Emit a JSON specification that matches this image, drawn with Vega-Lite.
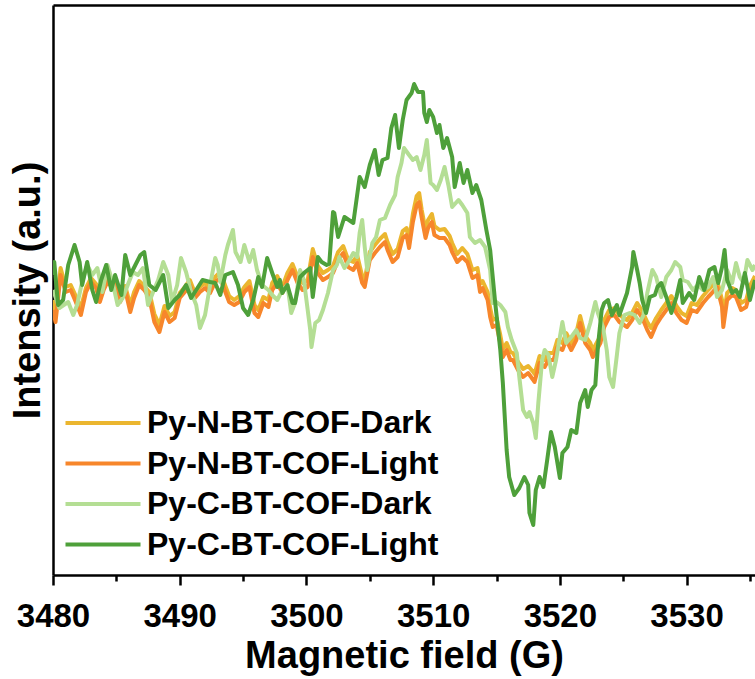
{
  "$schema": "https://vega.github.io/schema/vega-lite/v6.json",
  "width": 702,
  "height": 570,
  "autosize": "none",
  "padding": {"left": 53, "top": 5, "right": 0, "bottom": 104},
  "background": "white",
  "config": {"view": {"stroke": null}, "font": "Liberation Sans"},
  "layer": [
    {
      "data": {"values": [
        {"s":"Py-N-BT-COF-Dark","x":3480.0,"y":275},{"s":"Py-N-BT-COF-Dark","x":3480.2,"y":260},{"s":"Py-N-BT-COF-Dark","x":3480.6,"y":307},{"s":"Py-N-BT-COF-Dark","x":3481.0,"y":288},{"s":"Py-N-BT-COF-Dark","x":3481.4,"y":290},{"s":"Py-N-BT-COF-Dark","x":3481.8,"y":279},{"s":"Py-N-BT-COF-Dark","x":3482.2,"y":267},{"s":"Py-N-BT-COF-Dark","x":3482.6,"y":287},{"s":"Py-N-BT-COF-Dark","x":3483.0,"y":297},{"s":"Py-N-BT-COF-Dark","x":3483.4,"y":291},{"s":"Py-N-BT-COF-Dark","x":3483.7,"y":279},{"s":"Py-N-BT-COF-Dark","x":3484.0,"y":289},{"s":"Py-N-BT-COF-Dark","x":3484.3,"y":297},{"s":"Py-N-BT-COF-Dark","x":3484.7,"y":291},{"s":"Py-N-BT-COF-Dark","x":3484.9,"y":295},{"s":"Py-N-BT-COF-Dark","x":3485.3,"y":279},{"s":"Py-N-BT-COF-Dark","x":3485.7,"y":289},{"s":"Py-N-BT-COF-Dark","x":3486.1,"y":270},{"s":"Py-N-BT-COF-Dark","x":3486.4,"y":283},{"s":"Py-N-BT-COF-Dark","x":3486.8,"y":294},{"s":"Py-N-BT-COF-Dark","x":3487.2,"y":289},{"s":"Py-N-BT-COF-Dark","x":3487.6,"y":283},{"s":"Py-N-BT-COF-Dark","x":3488.0,"y":261},{"s":"Py-N-BT-COF-Dark","x":3488.4,"y":250},{"s":"Py-N-BT-COF-Dark","x":3488.8,"y":269},{"s":"Py-N-BT-COF-Dark","x":3489.2,"y":259},{"s":"Py-N-BT-COF-Dark","x":3489.6,"y":263},{"s":"Py-N-BT-COF-Dark","x":3490.0,"y":282},{"s":"Py-N-BT-COF-Dark","x":3490.4,"y":288},{"s":"Py-N-BT-COF-Dark","x":3490.8,"y":295},{"s":"Py-N-BT-COF-Dark","x":3491.2,"y":282},{"s":"Py-N-BT-COF-Dark","x":3491.6,"y":288},{"s":"Py-N-BT-COF-Dark","x":3492.0,"y":292},{"s":"Py-N-BT-COF-Dark","x":3492.4,"y":287},{"s":"Py-N-BT-COF-Dark","x":3492.8,"y":298},{"s":"Py-N-BT-COF-Dark","x":3493.2,"y":303},{"s":"Py-N-BT-COF-Dark","x":3493.6,"y":289},{"s":"Py-N-BT-COF-Dark","x":3493.9,"y":279},{"s":"Py-N-BT-COF-Dark","x":3494.3,"y":275},{"s":"Py-N-BT-COF-Dark","x":3494.7,"y":279},{"s":"Py-N-BT-COF-Dark","x":3495.1,"y":288},{"s":"Py-N-BT-COF-Dark","x":3495.5,"y":294},{"s":"Py-N-BT-COF-Dark","x":3495.9,"y":270},{"s":"Py-N-BT-COF-Dark","x":3496.2,"y":265},{"s":"Py-N-BT-COF-Dark","x":3496.6,"y":278},{"s":"Py-N-BT-COF-Dark","x":3497.0,"y":275},{"s":"Py-N-BT-COF-Dark","x":3497.3,"y":292},{"s":"Py-N-BT-COF-Dark","x":3497.7,"y":299},{"s":"Py-N-BT-COF-Dark","x":3498.1,"y":288},{"s":"Py-N-BT-COF-Dark","x":3498.5,"y":302},{"s":"Py-N-BT-COF-Dark","x":3498.9,"y":311},{"s":"Py-N-BT-COF-Dark","x":3499.3,"y":298},{"s":"Py-N-BT-COF-Dark","x":3499.7,"y":292},{"s":"Py-N-BT-COF-Dark","x":3500.1,"y":295},{"s":"Py-N-BT-COF-Dark","x":3500.5,"y":326},{"s":"Py-N-BT-COF-Dark","x":3500.9,"y":309},{"s":"Py-N-BT-COF-Dark","x":3501.3,"y":302},{"s":"Py-N-BT-COF-Dark","x":3501.7,"y":305},{"s":"Py-N-BT-COF-Dark","x":3502.1,"y":309},{"s":"Py-N-BT-COF-Dark","x":3502.5,"y":323},{"s":"Py-N-BT-COF-Dark","x":3502.9,"y":329},{"s":"Py-N-BT-COF-Dark","x":3503.3,"y":315},{"s":"Py-N-BT-COF-Dark","x":3503.7,"y":313},{"s":"Py-N-BT-COF-Dark","x":3504.0,"y":320},{"s":"Py-N-BT-COF-Dark","x":3504.4,"y":299},{"s":"Py-N-BT-COF-Dark","x":3504.6,"y":295},{"s":"Py-N-BT-COF-Dark","x":3505.0,"y":323},{"s":"Py-N-BT-COF-Dark","x":3505.4,"y":330},{"s":"Py-N-BT-COF-Dark","x":3505.8,"y":336},{"s":"Py-N-BT-COF-Dark","x":3506.2,"y":341},{"s":"Py-N-BT-COF-Dark","x":3506.4,"y":333},{"s":"Py-N-BT-COF-Dark","x":3506.8,"y":321},{"s":"Py-N-BT-COF-Dark","x":3507.2,"y":326},{"s":"Py-N-BT-COF-Dark","x":3507.6,"y":344},{"s":"Py-N-BT-COF-Dark","x":3507.9,"y":347},{"s":"Py-N-BT-COF-Dark","x":3508.1,"y":334},{"s":"Py-N-BT-COF-Dark","x":3508.4,"y":361},{"s":"Py-N-BT-COF-Dark","x":3508.7,"y":379},{"s":"Py-N-BT-COF-Dark","x":3508.9,"y":382},{"s":"Py-N-BT-COF-Dark","x":3509.1,"y":365},{"s":"Py-N-BT-COF-Dark","x":3509.4,"y":345},{"s":"Py-N-BT-COF-Dark","x":3509.6,"y":355},{"s":"Py-N-BT-COF-Dark","x":3509.9,"y":361},{"s":"Py-N-BT-COF-Dark","x":3510.1,"y":349},{"s":"Py-N-BT-COF-Dark","x":3510.5,"y":345},{"s":"Py-N-BT-COF-Dark","x":3510.9,"y":346},{"s":"Py-N-BT-COF-Dark","x":3511.3,"y":339},{"s":"Py-N-BT-COF-Dark","x":3511.5,"y":332},{"s":"Py-N-BT-COF-Dark","x":3511.9,"y":321},{"s":"Py-N-BT-COF-Dark","x":3512.3,"y":327},{"s":"Py-N-BT-COF-Dark","x":3512.7,"y":321},{"s":"Py-N-BT-COF-Dark","x":3513.1,"y":305},{"s":"Py-N-BT-COF-Dark","x":3513.5,"y":307},{"s":"Py-N-BT-COF-Dark","x":3513.7,"y":291},{"s":"Py-N-BT-COF-Dark","x":3513.9,"y":294},{"s":"Py-N-BT-COF-Dark","x":3514.3,"y":283},{"s":"Py-N-BT-COF-Dark","x":3514.5,"y":267},{"s":"Py-N-BT-COF-Dark","x":3514.7,"y":255},{"s":"Py-N-BT-COF-Dark","x":3515.0,"y":257},{"s":"Py-N-BT-COF-Dark","x":3515.3,"y":240},{"s":"Py-N-BT-COF-Dark","x":3515.5,"y":226},{"s":"Py-N-BT-COF-Dark","x":3515.8,"y":232},{"s":"Py-N-BT-COF-Dark","x":3516.1,"y":223},{"s":"Py-N-BT-COF-Dark","x":3516.3,"y":222},{"s":"Py-N-BT-COF-Dark","x":3516.7,"y":213},{"s":"Py-N-BT-COF-Dark","x":3517.1,"y":206},{"s":"Py-N-BT-COF-Dark","x":3517.5,"y":209},{"s":"Py-N-BT-COF-Dark","x":3517.9,"y":203},{"s":"Py-N-BT-COF-Dark","x":3518.0,"y":201},{"s":"Py-N-BT-COF-Dark","x":3518.4,"y":219},{"s":"Py-N-BT-COF-Dark","x":3518.8,"y":215},{"s":"Py-N-BT-COF-Dark","x":3519.1,"y":222},{"s":"Py-N-BT-COF-Dark","x":3519.5,"y":222},{"s":"Py-N-BT-COF-Dark","x":3519.8,"y":235},{"s":"Py-N-BT-COF-Dark","x":3520.2,"y":232},{"s":"Py-N-BT-COF-Dark","x":3520.5,"y":242},{"s":"Py-N-BT-COF-Dark","x":3520.9,"y":232},{"s":"Py-N-BT-COF-Dark","x":3521.3,"y":242},{"s":"Py-N-BT-COF-Dark","x":3521.6,"y":259},{"s":"Py-N-BT-COF-Dark","x":3522.0,"y":239},{"s":"Py-N-BT-COF-Dark","x":3522.4,"y":232},{"s":"Py-N-BT-COF-Dark","x":3522.6,"y":225},{"s":"Py-N-BT-COF-Dark","x":3522.9,"y":232},{"s":"Py-N-BT-COF-Dark","x":3523.2,"y":239},{"s":"Py-N-BT-COF-Dark","x":3523.5,"y":255},{"s":"Py-N-BT-COF-Dark","x":3523.9,"y":265},{"s":"Py-N-BT-COF-Dark","x":3524.3,"y":267},{"s":"Py-N-BT-COF-Dark","x":3524.7,"y":260},{"s":"Py-N-BT-COF-Dark","x":3525.3,"y":255},{"s":"Py-N-BT-COF-Dark","x":3525.7,"y":262},{"s":"Py-N-BT-COF-Dark","x":3526.1,"y":272},{"s":"Py-N-BT-COF-Dark","x":3526.5,"y":264},{"s":"Py-N-BT-COF-Dark","x":3526.9,"y":253},{"s":"Py-N-BT-COF-Dark","x":3527.2,"y":247},{"s":"Py-N-BT-COF-Dark","x":3527.6,"y":257},{"s":"Py-N-BT-COF-Dark","x":3528.0,"y":265},{"s":"Py-N-BT-COF-Dark","x":3528.4,"y":272},{"s":"Py-N-BT-COF-Dark","x":3528.8,"y":279},{"s":"Py-N-BT-COF-Dark","x":3529.2,"y":269},{"s":"Py-N-BT-COF-Dark","x":3529.6,"y":262},{"s":"Py-N-BT-COF-Dark","x":3530.0,"y":259},{"s":"Py-N-BT-COF-Dark","x":3530.4,"y":272},{"s":"Py-N-BT-COF-Dark","x":3530.8,"y":270},{"s":"Py-N-BT-COF-Dark","x":3531.3,"y":279},{"s":"Py-N-BT-COF-Dark","x":3531.7,"y":285},{"s":"Py-N-BT-COF-Dark","x":3532.0,"y":289},{"s":"Py-N-BT-COF-Dark","x":3532.4,"y":295},{"s":"Py-N-BT-COF-Dark","x":3532.8,"y":275},{"s":"Py-N-BT-COF-Dark","x":3532.9,"y":257},{"s":"Py-N-BT-COF-Dark","x":3533.2,"y":282},{"s":"Py-N-BT-COF-Dark","x":3533.6,"y":287},{"s":"Py-N-BT-COF-Dark","x":3533.9,"y":285},{"s":"Py-N-BT-COF-Dark","x":3534.3,"y":272},{"s":"Py-N-BT-COF-Dark","x":3534.7,"y":275},{"s":"Py-N-BT-COF-Dark","x":3535.0,"y":289},{"s":"Py-N-BT-COF-Dark","x":3535.4,"y":299},

        {"s":"Py-N-BT-COF-Light","x":3480.0,"y":265},{"s":"Py-N-BT-COF-Light","x":3480.2,"y":253},{"s":"Py-N-BT-COF-Light","x":3480.6,"y":300},{"s":"Py-N-BT-COF-Light","x":3481.0,"y":283},{"s":"Py-N-BT-COF-Light","x":3481.4,"y":285},{"s":"Py-N-BT-COF-Light","x":3481.8,"y":273},{"s":"Py-N-BT-COF-Light","x":3482.2,"y":260},{"s":"Py-N-BT-COF-Light","x":3482.6,"y":283},{"s":"Py-N-BT-COF-Light","x":3483.0,"y":293},{"s":"Py-N-BT-COF-Light","x":3483.4,"y":287},{"s":"Py-N-BT-COF-Light","x":3483.7,"y":273},{"s":"Py-N-BT-COF-Light","x":3484.0,"y":285},{"s":"Py-N-BT-COF-Light","x":3484.3,"y":293},{"s":"Py-N-BT-COF-Light","x":3484.7,"y":287},{"s":"Py-N-BT-COF-Light","x":3484.9,"y":290},{"s":"Py-N-BT-COF-Light","x":3485.3,"y":273},{"s":"Py-N-BT-COF-Light","x":3485.7,"y":285},{"s":"Py-N-BT-COF-Light","x":3486.1,"y":263},{"s":"Py-N-BT-COF-Light","x":3486.4,"y":277},{"s":"Py-N-BT-COF-Light","x":3486.8,"y":290},{"s":"Py-N-BT-COF-Light","x":3487.2,"y":285},{"s":"Py-N-BT-COF-Light","x":3487.6,"y":277},{"s":"Py-N-BT-COF-Light","x":3488.0,"y":253},{"s":"Py-N-BT-COF-Light","x":3488.4,"y":243},{"s":"Py-N-BT-COF-Light","x":3488.8,"y":263},{"s":"Py-N-BT-COF-Light","x":3489.2,"y":253},{"s":"Py-N-BT-COF-Light","x":3489.6,"y":257},{"s":"Py-N-BT-COF-Light","x":3490.0,"y":277},{"s":"Py-N-BT-COF-Light","x":3490.4,"y":283},{"s":"Py-N-BT-COF-Light","x":3490.8,"y":290},{"s":"Py-N-BT-COF-Light","x":3491.2,"y":277},{"s":"Py-N-BT-COF-Light","x":3491.6,"y":283},{"s":"Py-N-BT-COF-Light","x":3492.0,"y":287},{"s":"Py-N-BT-COF-Light","x":3492.4,"y":282},{"s":"Py-N-BT-COF-Light","x":3492.8,"y":293},{"s":"Py-N-BT-COF-Light","x":3493.2,"y":297},{"s":"Py-N-BT-COF-Light","x":3493.6,"y":283},{"s":"Py-N-BT-COF-Light","x":3493.9,"y":273},{"s":"Py-N-BT-COF-Light","x":3494.3,"y":270},{"s":"Py-N-BT-COF-Light","x":3494.7,"y":273},{"s":"Py-N-BT-COF-Light","x":3495.1,"y":283},{"s":"Py-N-BT-COF-Light","x":3495.5,"y":288},{"s":"Py-N-BT-COF-Light","x":3495.9,"y":262},{"s":"Py-N-BT-COF-Light","x":3496.2,"y":258},{"s":"Py-N-BT-COF-Light","x":3496.6,"y":272},{"s":"Py-N-BT-COF-Light","x":3497.0,"y":268},{"s":"Py-N-BT-COF-Light","x":3497.3,"y":285},{"s":"Py-N-BT-COF-Light","x":3497.7,"y":292},{"s":"Py-N-BT-COF-Light","x":3498.1,"y":282},{"s":"Py-N-BT-COF-Light","x":3498.5,"y":295},{"s":"Py-N-BT-COF-Light","x":3498.9,"y":305},{"s":"Py-N-BT-COF-Light","x":3499.3,"y":292},{"s":"Py-N-BT-COF-Light","x":3499.7,"y":285},{"s":"Py-N-BT-COF-Light","x":3500.1,"y":288},{"s":"Py-N-BT-COF-Light","x":3500.5,"y":318},{"s":"Py-N-BT-COF-Light","x":3500.9,"y":302},{"s":"Py-N-BT-COF-Light","x":3501.3,"y":295},{"s":"Py-N-BT-COF-Light","x":3501.7,"y":298},{"s":"Py-N-BT-COF-Light","x":3502.1,"y":302},{"s":"Py-N-BT-COF-Light","x":3502.5,"y":315},{"s":"Py-N-BT-COF-Light","x":3502.9,"y":322},{"s":"Py-N-BT-COF-Light","x":3503.3,"y":308},{"s":"Py-N-BT-COF-Light","x":3503.7,"y":305},{"s":"Py-N-BT-COF-Light","x":3504.0,"y":312},{"s":"Py-N-BT-COF-Light","x":3504.4,"y":292},{"s":"Py-N-BT-COF-Light","x":3504.6,"y":288},{"s":"Py-N-BT-COF-Light","x":3505.0,"y":315},{"s":"Py-N-BT-COF-Light","x":3505.4,"y":322},{"s":"Py-N-BT-COF-Light","x":3505.8,"y":328},{"s":"Py-N-BT-COF-Light","x":3506.2,"y":333},{"s":"Py-N-BT-COF-Light","x":3506.4,"y":325},{"s":"Py-N-BT-COF-Light","x":3506.8,"y":313},{"s":"Py-N-BT-COF-Light","x":3507.2,"y":318},{"s":"Py-N-BT-COF-Light","x":3507.6,"y":337},{"s":"Py-N-BT-COF-Light","x":3507.9,"y":340},{"s":"Py-N-BT-COF-Light","x":3508.1,"y":327},{"s":"Py-N-BT-COF-Light","x":3508.4,"y":353},{"s":"Py-N-BT-COF-Light","x":3508.7,"y":370},{"s":"Py-N-BT-COF-Light","x":3508.9,"y":373},{"s":"Py-N-BT-COF-Light","x":3509.1,"y":357},{"s":"Py-N-BT-COF-Light","x":3509.4,"y":337},{"s":"Py-N-BT-COF-Light","x":3509.6,"y":347},{"s":"Py-N-BT-COF-Light","x":3509.9,"y":353},{"s":"Py-N-BT-COF-Light","x":3510.1,"y":340},{"s":"Py-N-BT-COF-Light","x":3510.5,"y":337},{"s":"Py-N-BT-COF-Light","x":3510.9,"y":337},{"s":"Py-N-BT-COF-Light","x":3511.3,"y":330},{"s":"Py-N-BT-COF-Light","x":3511.5,"y":323},{"s":"Py-N-BT-COF-Light","x":3511.9,"y":313},{"s":"Py-N-BT-COF-Light","x":3512.3,"y":318},{"s":"Py-N-BT-COF-Light","x":3512.7,"y":313},{"s":"Py-N-BT-COF-Light","x":3513.1,"y":297},{"s":"Py-N-BT-COF-Light","x":3513.5,"y":300},{"s":"Py-N-BT-COF-Light","x":3513.7,"y":283},{"s":"Py-N-BT-COF-Light","x":3513.9,"y":287},{"s":"Py-N-BT-COF-Light","x":3514.3,"y":275},{"s":"Py-N-BT-COF-Light","x":3514.5,"y":258},{"s":"Py-N-BT-COF-Light","x":3514.7,"y":248},{"s":"Py-N-BT-COF-Light","x":3515.0,"y":250},{"s":"Py-N-BT-COF-Light","x":3515.3,"y":232},{"s":"Py-N-BT-COF-Light","x":3515.5,"y":218},{"s":"Py-N-BT-COF-Light","x":3515.8,"y":225},{"s":"Py-N-BT-COF-Light","x":3516.1,"y":215},{"s":"Py-N-BT-COF-Light","x":3516.3,"y":215},{"s":"Py-N-BT-COF-Light","x":3516.7,"y":205},{"s":"Py-N-BT-COF-Light","x":3517.1,"y":198},{"s":"Py-N-BT-COF-Light","x":3517.5,"y":202},{"s":"Py-N-BT-COF-Light","x":3517.9,"y":195},{"s":"Py-N-BT-COF-Light","x":3518.0,"y":193},{"s":"Py-N-BT-COF-Light","x":3518.4,"y":212},{"s":"Py-N-BT-COF-Light","x":3518.8,"y":208},{"s":"Py-N-BT-COF-Light","x":3519.1,"y":215},{"s":"Py-N-BT-COF-Light","x":3519.5,"y":215},{"s":"Py-N-BT-COF-Light","x":3519.8,"y":228},{"s":"Py-N-BT-COF-Light","x":3520.2,"y":225},{"s":"Py-N-BT-COF-Light","x":3520.5,"y":235},{"s":"Py-N-BT-COF-Light","x":3520.9,"y":225},{"s":"Py-N-BT-COF-Light","x":3521.3,"y":235},{"s":"Py-N-BT-COF-Light","x":3521.6,"y":252},{"s":"Py-N-BT-COF-Light","x":3522.0,"y":232},{"s":"Py-N-BT-COF-Light","x":3522.4,"y":225},{"s":"Py-N-BT-COF-Light","x":3522.6,"y":218},{"s":"Py-N-BT-COF-Light","x":3522.9,"y":225},{"s":"Py-N-BT-COF-Light","x":3523.2,"y":232},{"s":"Py-N-BT-COF-Light","x":3523.5,"y":248},{"s":"Py-N-BT-COF-Light","x":3523.9,"y":258},{"s":"Py-N-BT-COF-Light","x":3524.3,"y":260},{"s":"Py-N-BT-COF-Light","x":3524.7,"y":253},{"s":"Py-N-BT-COF-Light","x":3525.3,"y":248},{"s":"Py-N-BT-COF-Light","x":3525.7,"y":255},{"s":"Py-N-BT-COF-Light","x":3526.1,"y":265},{"s":"Py-N-BT-COF-Light","x":3526.5,"y":257},{"s":"Py-N-BT-COF-Light","x":3526.9,"y":245},{"s":"Py-N-BT-COF-Light","x":3527.2,"y":238},{"s":"Py-N-BT-COF-Light","x":3527.6,"y":250},{"s":"Py-N-BT-COF-Light","x":3528.0,"y":258},{"s":"Py-N-BT-COF-Light","x":3528.4,"y":265},{"s":"Py-N-BT-COF-Light","x":3528.8,"y":272},{"s":"Py-N-BT-COF-Light","x":3529.2,"y":262},{"s":"Py-N-BT-COF-Light","x":3529.6,"y":255},{"s":"Py-N-BT-COF-Light","x":3530.0,"y":252},{"s":"Py-N-BT-COF-Light","x":3530.4,"y":265},{"s":"Py-N-BT-COF-Light","x":3530.8,"y":263},{"s":"Py-N-BT-COF-Light","x":3531.3,"y":272},{"s":"Py-N-BT-COF-Light","x":3531.7,"y":278},{"s":"Py-N-BT-COF-Light","x":3532.0,"y":282},{"s":"Py-N-BT-COF-Light","x":3532.4,"y":288},{"s":"Py-N-BT-COF-Light","x":3532.8,"y":268},{"s":"Py-N-BT-COF-Light","x":3532.9,"y":248},{"s":"Py-N-BT-COF-Light","x":3533.2,"y":275},{"s":"Py-N-BT-COF-Light","x":3533.6,"y":280},{"s":"Py-N-BT-COF-Light","x":3533.9,"y":278},{"s":"Py-N-BT-COF-Light","x":3534.3,"y":265},{"s":"Py-N-BT-COF-Light","x":3534.7,"y":268},{"s":"Py-N-BT-COF-Light","x":3535.0,"y":282},{"s":"Py-N-BT-COF-Light","x":3535.4,"y":292},

        {"s":"Py-C-BT-COF-Dark","x":3480.0,"y":285},{"s":"Py-C-BT-COF-Dark","x":3480.5,"y":267},{"s":"Py-C-BT-COF-Dark","x":3481.2,"y":273},{"s":"Py-C-BT-COF-Dark","x":3481.6,"y":260},{"s":"Py-C-BT-COF-Dark","x":3481.9,"y":270},{"s":"Py-C-BT-COF-Dark","x":3482.3,"y":293},{"s":"Py-C-BT-COF-Dark","x":3482.7,"y":310},{"s":"Py-C-BT-COF-Dark","x":3483.1,"y":300},{"s":"Py-C-BT-COF-Dark","x":3483.5,"y":307},{"s":"Py-C-BT-COF-Dark","x":3483.9,"y":283},{"s":"Py-C-BT-COF-Dark","x":3484.3,"y":310},{"s":"Py-C-BT-COF-Dark","x":3484.7,"y":293},{"s":"Py-C-BT-COF-Dark","x":3485.1,"y":270},{"s":"Py-C-BT-COF-Dark","x":3485.5,"y":277},{"s":"Py-C-BT-COF-Dark","x":3485.9,"y":290},{"s":"Py-C-BT-COF-Dark","x":3486.3,"y":303},{"s":"Py-C-BT-COF-Dark","x":3486.7,"y":300},{"s":"Py-C-BT-COF-Dark","x":3487.1,"y":307},{"s":"Py-C-BT-COF-Dark","x":3487.5,"y":270},{"s":"Py-C-BT-COF-Dark","x":3487.9,"y":283},{"s":"Py-C-BT-COF-Dark","x":3488.3,"y":295},{"s":"Py-C-BT-COF-Dark","x":3488.7,"y":313},{"s":"Py-C-BT-COF-Dark","x":3489.1,"y":300},{"s":"Py-C-BT-COF-Dark","x":3489.4,"y":273},{"s":"Py-C-BT-COF-Dark","x":3489.8,"y":290},{"s":"Py-C-BT-COF-Dark","x":3490.1,"y":317},{"s":"Py-C-BT-COF-Dark","x":3490.5,"y":303},{"s":"Py-C-BT-COF-Dark","x":3490.9,"y":283},{"s":"Py-C-BT-COF-Dark","x":3491.3,"y":270},{"s":"Py-C-BT-COF-Dark","x":3491.6,"y":247},{"s":"Py-C-BT-COF-Dark","x":3492.0,"y":260},{"s":"Py-C-BT-COF-Dark","x":3492.4,"y":290},{"s":"Py-C-BT-COF-Dark","x":3492.8,"y":317},{"s":"Py-C-BT-COF-Dark","x":3493.0,"y":310},{"s":"Py-C-BT-COF-Dark","x":3493.2,"y":293},{"s":"Py-C-BT-COF-Dark","x":3493.6,"y":320},{"s":"Py-C-BT-COF-Dark","x":3493.8,"y":330},{"s":"Py-C-BT-COF-Dark","x":3494.2,"y":345},{"s":"Py-C-BT-COF-Dark","x":3494.4,"y":323},{"s":"Py-C-BT-COF-Dark","x":3494.8,"y":313},{"s":"Py-C-BT-COF-Dark","x":3495.1,"y":330},{"s":"Py-C-BT-COF-Dark","x":3495.5,"y":313},{"s":"Py-C-BT-COF-Dark","x":3495.8,"y":325},{"s":"Py-C-BT-COF-Dark","x":3496.1,"y":305},{"s":"Py-C-BT-COF-Dark","x":3496.5,"y":290},{"s":"Py-C-BT-COF-Dark","x":3497.0,"y":285},{"s":"Py-C-BT-COF-Dark","x":3497.3,"y":280},{"s":"Py-C-BT-COF-Dark","x":3497.7,"y":275},{"s":"Py-C-BT-COF-Dark","x":3498.1,"y":285},{"s":"Py-C-BT-COF-Dark","x":3498.5,"y":290},{"s":"Py-C-BT-COF-Dark","x":3498.8,"y":262},{"s":"Py-C-BT-COF-Dark","x":3499.1,"y":272},{"s":"Py-C-BT-COF-Dark","x":3499.5,"y":305},{"s":"Py-C-BT-COF-Dark","x":3499.8,"y":295},{"s":"Py-C-BT-COF-Dark","x":3500.0,"y":275},{"s":"Py-C-BT-COF-Dark","x":3500.3,"y":245},{"s":"Py-C-BT-COF-Dark","x":3500.4,"y":228},{"s":"Py-C-BT-COF-Dark","x":3500.7,"y":252},{"s":"Py-C-BT-COF-Dark","x":3501.0,"y":255},{"s":"Py-C-BT-COF-Dark","x":3501.3,"y":265},{"s":"Py-C-BT-COF-Dark","x":3501.7,"y":282},{"s":"Py-C-BT-COF-Dark","x":3502.1,"y":305},{"s":"Py-C-BT-COF-Dark","x":3502.4,"y":310},{"s":"Py-C-BT-COF-Dark","x":3502.6,"y":318},{"s":"Py-C-BT-COF-Dark","x":3503.0,"y":307},{"s":"Py-C-BT-COF-Dark","x":3503.4,"y":315},{"s":"Py-C-BT-COF-Dark","x":3503.7,"y":322},{"s":"Py-C-BT-COF-Dark","x":3504.0,"y":318},{"s":"Py-C-BT-COF-Dark","x":3504.2,"y":342},{"s":"Py-C-BT-COF-Dark","x":3504.4,"y":355},{"s":"Py-C-BT-COF-Dark","x":3504.6,"y":328},{"s":"Py-C-BT-COF-Dark","x":3504.8,"y":305},{"s":"Py-C-BT-COF-Dark","x":3505.2,"y":332},{"s":"Py-C-BT-COF-Dark","x":3505.5,"y":338},{"s":"Py-C-BT-COF-Dark","x":3505.8,"y":355},{"s":"Py-C-BT-COF-Dark","x":3506.2,"y":357},{"s":"Py-C-BT-COF-Dark","x":3506.6,"y":370},{"s":"Py-C-BT-COF-Dark","x":3507.0,"y":380},{"s":"Py-C-BT-COF-Dark","x":3507.2,"y":398},{"s":"Py-C-BT-COF-Dark","x":3507.5,"y":412},{"s":"Py-C-BT-COF-Dark","x":3507.7,"y":427},{"s":"Py-C-BT-COF-Dark","x":3508.1,"y":420},{"s":"Py-C-BT-COF-Dark","x":3508.4,"y":415},{"s":"Py-C-BT-COF-Dark","x":3508.7,"y":418},{"s":"Py-C-BT-COF-Dark","x":3509.0,"y":405},{"s":"Py-C-BT-COF-Dark","x":3509.3,"y":420},{"s":"Py-C-BT-COF-Dark","x":3509.5,"y":435},{"s":"Py-C-BT-COF-Dark","x":3509.8,"y":392},{"s":"Py-C-BT-COF-Dark","x":3510.0,"y":390},{"s":"Py-C-BT-COF-Dark","x":3510.3,"y":385},{"s":"Py-C-BT-COF-Dark","x":3510.6,"y":395},{"s":"Py-C-BT-COF-Dark","x":3510.9,"y":408},{"s":"Py-C-BT-COF-Dark","x":3511.2,"y":390},{"s":"Py-C-BT-COF-Dark","x":3511.5,"y":368},{"s":"Py-C-BT-COF-Dark","x":3512.0,"y":375},{"s":"Py-C-BT-COF-Dark","x":3512.3,"y":370},{"s":"Py-C-BT-COF-Dark","x":3512.7,"y":362},{"s":"Py-C-BT-COF-Dark","x":3512.9,"y":338},{"s":"Py-C-BT-COF-Dark","x":3513.3,"y":332},{"s":"Py-C-BT-COF-Dark","x":3513.7,"y":335},{"s":"Py-C-BT-COF-Dark","x":3514.1,"y":328},{"s":"Py-C-BT-COF-Dark","x":3514.5,"y":305},{"s":"Py-C-BT-COF-Dark","x":3514.7,"y":272},{"s":"Py-C-BT-COF-Dark","x":3515.0,"y":273},{"s":"Py-C-BT-COF-Dark","x":3515.3,"y":270},{"s":"Py-C-BT-COF-Dark","x":3515.7,"y":263},{"s":"Py-C-BT-COF-Dark","x":3515.9,"y":248},{"s":"Py-C-BT-COF-Dark","x":3516.2,"y":235},{"s":"Py-C-BT-COF-Dark","x":3516.6,"y":222},{"s":"Py-C-BT-COF-Dark","x":3516.8,"y":198},{"s":"Py-C-BT-COF-Dark","x":3517.1,"y":165},{"s":"Py-C-BT-COF-Dark","x":3517.4,"y":158},{"s":"Py-C-BT-COF-Dark","x":3517.6,"y":163},{"s":"Py-C-BT-COF-Dark","x":3517.9,"y":152},{"s":"Py-C-BT-COF-Dark","x":3518.1,"y":137},{"s":"Py-C-BT-COF-Dark","x":3518.3,"y":172},{"s":"Py-C-BT-COF-Dark","x":3518.6,"y":215},{"s":"Py-C-BT-COF-Dark","x":3518.8,"y":225},{"s":"Py-C-BT-COF-Dark","x":3519.1,"y":220},{"s":"Py-C-BT-COF-Dark","x":3519.4,"y":198},{"s":"Py-C-BT-COF-Dark","x":3519.7,"y":215},{"s":"Py-C-BT-COF-Dark","x":3520.0,"y":238},{"s":"Py-C-BT-COF-Dark","x":3520.2,"y":253},{"s":"Py-C-BT-COF-Dark","x":3520.5,"y":232},{"s":"Py-C-BT-COF-Dark","x":3520.9,"y":238},{"s":"Py-C-BT-COF-Dark","x":3521.3,"y":245},{"s":"Py-C-BT-COF-Dark","x":3521.6,"y":237},{"s":"Py-C-BT-COF-Dark","x":3522.0,"y":235},{"s":"Py-C-BT-COF-Dark","x":3522.4,"y":252},{"s":"Py-C-BT-COF-Dark","x":3522.8,"y":273},{"s":"Py-C-BT-COF-Dark","x":3523.0,"y":262},{"s":"Py-C-BT-COF-Dark","x":3523.4,"y":248},{"s":"Py-C-BT-COF-Dark","x":3523.7,"y":225},{"s":"Py-C-BT-COF-Dark","x":3523.9,"y":198},{"s":"Py-C-BT-COF-Dark","x":3524.2,"y":188},{"s":"Py-C-BT-COF-Dark","x":3524.5,"y":220},{"s":"Py-C-BT-COF-Dark","x":3524.7,"y":242},{"s":"Py-C-BT-COF-Dark","x":3525.1,"y":260},{"s":"Py-C-BT-COF-Dark","x":3525.5,"y":262},{"s":"Py-C-BT-COF-Dark","x":3525.9,"y":260},{"s":"Py-C-BT-COF-Dark","x":3526.3,"y":252},{"s":"Py-C-BT-COF-Dark","x":3526.6,"y":260},{"s":"Py-C-BT-COF-Dark","x":3526.9,"y":282},{"s":"Py-C-BT-COF-Dark","x":3527.3,"y":305},{"s":"Py-C-BT-COF-Dark","x":3527.6,"y":298},{"s":"Py-C-BT-COF-Dark","x":3528.0,"y":278},{"s":"Py-C-BT-COF-Dark","x":3528.4,"y":298},{"s":"Py-C-BT-COF-Dark","x":3528.8,"y":305},{"s":"Py-C-BT-COF-Dark","x":3529.1,"y":313},{"s":"Py-C-BT-COF-Dark","x":3529.5,"y":308},{"s":"Py-C-BT-COF-Dark","x":3529.7,"y":295},{"s":"Py-C-BT-COF-Dark","x":3530.1,"y":293},{"s":"Py-C-BT-COF-Dark","x":3530.5,"y":285},{"s":"Py-C-BT-COF-Dark","x":3530.9,"y":290},{"s":"Py-C-BT-COF-Dark","x":3531.3,"y":285},{"s":"Py-C-BT-COF-Dark","x":3531.7,"y":288},{"s":"Py-C-BT-COF-Dark","x":3532.1,"y":298},{"s":"Py-C-BT-COF-Dark","x":3532.4,"y":278},{"s":"Py-C-BT-COF-Dark","x":3532.8,"y":285},{"s":"Py-C-BT-COF-Dark","x":3533.2,"y":305},{"s":"Py-C-BT-COF-Dark","x":3533.6,"y":292},{"s":"Py-C-BT-COF-Dark","x":3533.9,"y":312},{"s":"Py-C-BT-COF-Dark","x":3534.2,"y":298},{"s":"Py-C-BT-COF-Dark","x":3534.5,"y":292},{"s":"Py-C-BT-COF-Dark","x":3534.8,"y":315},{"s":"Py-C-BT-COF-Dark","x":3535.2,"y":305},{"s":"Py-C-BT-COF-Dark","x":3535.4,"y":310},

        {"s":"Py-C-BT-COF-Light","x":3480.0,"y":300},{"s":"Py-C-BT-COF-Light","x":3480.1,"y":313},{"s":"Py-C-BT-COF-Light","x":3480.4,"y":270},{"s":"Py-C-BT-COF-Light","x":3480.8,"y":275},{"s":"Py-C-BT-COF-Light","x":3481.2,"y":310},{"s":"Py-C-BT-COF-Light","x":3481.7,"y":330},{"s":"Py-C-BT-COF-Light","x":3482.1,"y":313},{"s":"Py-C-BT-COF-Light","x":3482.3,"y":290},{"s":"Py-C-BT-COF-Light","x":3482.7,"y":313},{"s":"Py-C-BT-COF-Light","x":3483.1,"y":285},{"s":"Py-C-BT-COF-Light","x":3483.4,"y":273},{"s":"Py-C-BT-COF-Light","x":3483.8,"y":295},{"s":"Py-C-BT-COF-Light","x":3484.2,"y":310},{"s":"Py-C-BT-COF-Light","x":3484.6,"y":285},{"s":"Py-C-BT-COF-Light","x":3484.9,"y":300},{"s":"Py-C-BT-COF-Light","x":3485.4,"y":280},{"s":"Py-C-BT-COF-Light","x":3485.7,"y":320},{"s":"Py-C-BT-COF-Light","x":3486.1,"y":300},{"s":"Py-C-BT-COF-Light","x":3486.5,"y":310},{"s":"Py-C-BT-COF-Light","x":3486.9,"y":320},{"s":"Py-C-BT-COF-Light","x":3487.2,"y":323},{"s":"Py-C-BT-COF-Light","x":3487.6,"y":290},{"s":"Py-C-BT-COF-Light","x":3488.1,"y":285},{"s":"Py-C-BT-COF-Light","x":3488.7,"y":300},{"s":"Py-C-BT-COF-Light","x":3489.1,"y":267},{"s":"Py-C-BT-COF-Light","x":3489.6,"y":275},{"s":"Py-C-BT-COF-Light","x":3490.0,"y":280},{"s":"Py-C-BT-COF-Light","x":3490.5,"y":290},{"s":"Py-C-BT-COF-Light","x":3490.9,"y":277},{"s":"Py-C-BT-COF-Light","x":3491.3,"y":285},{"s":"Py-C-BT-COF-Light","x":3491.8,"y":295},{"s":"Py-C-BT-COF-Light","x":3492.4,"y":293},{"s":"Py-C-BT-COF-Light","x":3492.8,"y":292},{"s":"Py-C-BT-COF-Light","x":3493.2,"y":280},{"s":"Py-C-BT-COF-Light","x":3493.6,"y":300},{"s":"Py-C-BT-COF-Light","x":3494.2,"y":303},{"s":"Py-C-BT-COF-Light","x":3494.6,"y":290},{"s":"Py-C-BT-COF-Light","x":3495.0,"y":267},{"s":"Py-C-BT-COF-Light","x":3495.4,"y":260},{"s":"Py-C-BT-COF-Light","x":3495.8,"y":275},{"s":"Py-C-BT-COF-Light","x":3496.2,"y":298},{"s":"Py-C-BT-COF-Light","x":3496.5,"y":288},{"s":"Py-C-BT-COF-Light","x":3496.9,"y":317},{"s":"Py-C-BT-COF-Light","x":3497.3,"y":302},{"s":"Py-C-BT-COF-Light","x":3497.7,"y":288},{"s":"Py-C-BT-COF-Light","x":3497.9,"y":295},{"s":"Py-C-BT-COF-Light","x":3498.1,"y":282},{"s":"Py-C-BT-COF-Light","x":3498.5,"y":290},{"s":"Py-C-BT-COF-Light","x":3498.9,"y":272},{"s":"Py-C-BT-COF-Light","x":3499.1,"y":272},{"s":"Py-C-BT-COF-Light","x":3499.5,"y":298},{"s":"Py-C-BT-COF-Light","x":3499.9,"y":303},{"s":"Py-C-BT-COF-Light","x":3500.3,"y":307},{"s":"Py-C-BT-COF-Light","x":3500.5,"y":278},{"s":"Py-C-BT-COF-Light","x":3500.9,"y":318},{"s":"Py-C-BT-COF-Light","x":3501.2,"y":313},{"s":"Py-C-BT-COF-Light","x":3501.6,"y":310},{"s":"Py-C-BT-COF-Light","x":3501.8,"y":311},{"s":"Py-C-BT-COF-Light","x":3502.1,"y":363},{"s":"Py-C-BT-COF-Light","x":3502.2,"y":362},{"s":"Py-C-BT-COF-Light","x":3502.5,"y":338},{"s":"Py-C-BT-COF-Light","x":3503.0,"y":358},{"s":"Py-C-BT-COF-Light","x":3503.7,"y":352},{"s":"Py-C-BT-COF-Light","x":3504.2,"y":398},{"s":"Py-C-BT-COF-Light","x":3504.6,"y":388},{"s":"Py-C-BT-COF-Light","x":3505.0,"y":410},{"s":"Py-C-BT-COF-Light","x":3505.4,"y":425},{"s":"Py-C-BT-COF-Light","x":3505.7,"y":400},{"s":"Py-C-BT-COF-Light","x":3506.0,"y":415},{"s":"Py-C-BT-COF-Light","x":3506.4,"y":417},{"s":"Py-C-BT-COF-Light","x":3506.7,"y":447},{"s":"Py-C-BT-COF-Light","x":3507.0,"y":460},{"s":"Py-C-BT-COF-Light","x":3507.3,"y":427},{"s":"Py-C-BT-COF-Light","x":3507.6,"y":455},{"s":"Py-C-BT-COF-Light","x":3507.9,"y":475},{"s":"Py-C-BT-COF-Light","x":3508.3,"y":482},{"s":"Py-C-BT-COF-Light","x":3508.5,"y":491},{"s":"Py-C-BT-COF-Light","x":3508.8,"y":483},{"s":"Py-C-BT-COF-Light","x":3509.2,"y":483},{"s":"Py-C-BT-COF-Light","x":3509.3,"y":462},{"s":"Py-C-BT-COF-Light","x":3509.5,"y":453},{"s":"Py-C-BT-COF-Light","x":3509.7,"y":465},{"s":"Py-C-BT-COF-Light","x":3510.0,"y":458},{"s":"Py-C-BT-COF-Light","x":3510.3,"y":442},{"s":"Py-C-BT-COF-Light","x":3510.5,"y":450},{"s":"Py-C-BT-COF-Light","x":3510.8,"y":427},{"s":"Py-C-BT-COF-Light","x":3511.1,"y":437},{"s":"Py-C-BT-COF-Light","x":3511.5,"y":418},{"s":"Py-C-BT-COF-Light","x":3511.7,"y":388},{"s":"Py-C-BT-COF-Light","x":3512.1,"y":412},{"s":"Py-C-BT-COF-Light","x":3512.4,"y":392},{"s":"Py-C-BT-COF-Light","x":3512.7,"y":405},{"s":"Py-C-BT-COF-Light","x":3513.1,"y":382},{"s":"Py-C-BT-COF-Light","x":3513.4,"y":390},{"s":"Py-C-BT-COF-Light","x":3513.8,"y":375},{"s":"Py-C-BT-COF-Light","x":3514.2,"y":345},{"s":"Py-C-BT-COF-Light","x":3514.5,"y":325},{"s":"Py-C-BT-COF-Light","x":3514.9,"y":272},{"s":"Py-C-BT-COF-Light","x":3515.3,"y":225},{"s":"Py-C-BT-COF-Light","x":3515.5,"y":192},{"s":"Py-C-BT-COF-Light","x":3515.8,"y":125},{"s":"Py-C-BT-COF-Light","x":3516.0,"y":98},{"s":"Py-C-BT-COF-Light","x":3516.4,"y":80},{"s":"Py-C-BT-COF-Light","x":3516.8,"y":87},{"s":"Py-C-BT-COF-Light","x":3517.2,"y":98},{"s":"Py-C-BT-COF-Light","x":3517.5,"y":90},{"s":"Py-C-BT-COF-Light","x":3517.6,"y":62},{"s":"Py-C-BT-COF-Light","x":3517.9,"y":50},{"s":"Py-C-BT-COF-Light","x":3518.1,"y":85},{"s":"Py-C-BT-COF-Light","x":3518.4,"y":98},{"s":"Py-C-BT-COF-Light","x":3518.7,"y":88},{"s":"Py-C-BT-COF-Light","x":3519.0,"y":115},{"s":"Py-C-BT-COF-Light","x":3519.3,"y":143},{"s":"Py-C-BT-COF-Light","x":3519.6,"y":128},{"s":"Py-C-BT-COF-Light","x":3520.0,"y":97},{"s":"Py-C-BT-COF-Light","x":3520.2,"y":122},{"s":"Py-C-BT-COF-Light","x":3520.6,"y":128},{"s":"Py-C-BT-COF-Light","x":3520.9,"y":145},{"s":"Py-C-BT-COF-Light","x":3521.3,"y":142},{"s":"Py-C-BT-COF-Light","x":3521.6,"y":172},{"s":"Py-C-BT-COF-Light","x":3522.0,"y":185},{"s":"Py-C-BT-COF-Light","x":3522.2,"y":168},{"s":"Py-C-BT-COF-Light","x":3522.5,"y":185},{"s":"Py-C-BT-COF-Light","x":3522.8,"y":190},{"s":"Py-C-BT-COF-Light","x":3523.0,"y":228},{"s":"Py-C-BT-COF-Light","x":3523.3,"y":265},{"s":"Py-C-BT-COF-Light","x":3523.5,"y":272},{"s":"Py-C-BT-COF-Light","x":3523.8,"y":275},{"s":"Py-C-BT-COF-Light","x":3524.1,"y":260},{"s":"Py-C-BT-COF-Light","x":3524.5,"y":270},{"s":"Py-C-BT-COF-Light","x":3524.7,"y":260},{"s":"Py-C-BT-COF-Light","x":3525.3,"y":282},{"s":"Py-C-BT-COF-Light","x":3525.7,"y":308},{"s":"Py-C-BT-COF-Light","x":3525.8,"y":323},{"s":"Py-C-BT-COF-Light","x":3526.1,"y":305},{"s":"Py-C-BT-COF-Light","x":3526.3,"y":292},{"s":"Py-C-BT-COF-Light","x":3526.5,"y":275},{"s":"Py-C-BT-COF-Light","x":3526.8,"y":262},{"s":"Py-C-BT-COF-Light","x":3527.1,"y":278},{"s":"Py-C-BT-COF-Light","x":3527.5,"y":280},{"s":"Py-C-BT-COF-Light","x":3527.7,"y":288},{"s":"Py-C-BT-COF-Light","x":3528.0,"y":292},{"s":"Py-C-BT-COF-Light","x":3528.4,"y":278},{"s":"Py-C-BT-COF-Light","x":3528.8,"y":262},{"s":"Py-C-BT-COF-Light","x":3529.2,"y":278},{"s":"Py-C-BT-COF-Light","x":3529.5,"y":295},{"s":"Py-C-BT-COF-Light","x":3529.7,"y":272},{"s":"Py-C-BT-COF-Light","x":3530.2,"y":282},{"s":"Py-C-BT-COF-Light","x":3530.6,"y":275},{"s":"Py-C-BT-COF-Light","x":3531.0,"y":298},{"s":"Py-C-BT-COF-Light","x":3531.4,"y":285},{"s":"Py-C-BT-COF-Light","x":3531.8,"y":305},{"s":"Py-C-BT-COF-Light","x":3532.2,"y":308},{"s":"Py-C-BT-COF-Light","x":3532.5,"y":292},{"s":"Py-C-BT-COF-Light","x":3532.8,"y":308},{"s":"Py-C-BT-COF-Light","x":3533.0,"y":325},{"s":"Py-C-BT-COF-Light","x":3533.2,"y":295},{"s":"Py-C-BT-COF-Light","x":3533.6,"y":282},{"s":"Py-C-BT-COF-Light","x":3533.9,"y":285},{"s":"Py-C-BT-COF-Light","x":3534.2,"y":278},{"s":"Py-C-BT-COF-Light","x":3534.6,"y":302},{"s":"Py-C-BT-COF-Light","x":3535.0,"y":275},{"s":"Py-C-BT-COF-Light","x":3535.4,"y":295}
      ]},
      "mark": {"type": "line", "strokeWidth": 4, "clip": true, "strokeJoin": "round"},
      "encoding": {
        "x": {
          "field": "x", "type": "quantitative",
          "scale": {"domain": [3480, 3535.4], "nice": false, "zero": false},
          "axis": {
            "orient": "bottom", "values": [3480, 3490, 3500, 3510, 3520, 3530], "format": "d",
            "grid": false, "domainColor": "black", "domainWidth": 2.5,
            "tickColor": "black", "tickWidth": 2.5, "tickSize": 10,
            "labelFont": "Liberation Sans", "labelFontSize": 33, "labelFontWeight": "bold", "labelColor": "black",
            "labelPadding": 15, "labelFlush": false, "labelOverlap": false,
            "title": "Magnetic field (G)", "titleFont": "Liberation Sans", "titleFontSize": 38, "titleFontWeight": "bold",
            "titleColor": "black", "titlePadding": 4
          }
        },
        "y": {
          "field": "y", "type": "quantitative",
          "scale": {"domain": [0, 570], "nice": false, "zero": false},
          "axis": {
            "ticks": false, "labels": false, "grid": false, "domainColor": "black", "domainWidth": 2.5,
            "title": "Intensity (a.u.)", "titleFont": "Liberation Sans", "titleFontSize": 38, "titleFontWeight": "bold",
            "titleColor": "black", "titlePadding": 6
          }
        },
        "color": {
          "field": "s", "type": "nominal",
          "scale": {
            "domain": ["Py-N-BT-COF-Dark", "Py-N-BT-COF-Light", "Py-C-BT-COF-Dark", "Py-C-BT-COF-Light"],
            "range": ["#EBB62F", "#F7862B", "#B4DE94", "#4EA03A"]
          },
          "legend": {
            "orient": "none", "legendX": 33, "legendY": 401, "title": null, "padding": 0,
            "symbolType": "M-2.5,0H2.5", "symbolSize": 900, "symbolStrokeWidth": 4, "symbolFillColor": "transparent",
            "labelFont": "Liberation Sans", "labelFontSize": 32, "labelFontWeight": "bold", "labelColor": "black",
            "labelOffset": 27, "rowPadding": 7.5, "labelLimit": 500
          }
        }
      }
    },
    {
      "data": {"values": [{"x": 3480}]},
      "mark": {"type": "rule", "opacity": 0},
      "encoding": {
        "x": {
          "field": "x", "type": "quantitative",
          "scale": {"domain": [3480, 3535.4], "nice": false, "zero": false},
          "axis": {
            "orient": "bottom", "values": [3485, 3495, 3505, 3515, 3525, 3535],
            "labels": false, "domain": false, "grid": false, "title": null,
            "tickColor": "black", "tickWidth": 2.5, "tickSize": 6
          }
        }
      }
    },
    {
      "data": {"values": [{"x": 3480}]},
      "mark": {"type": "rule", "opacity": 0},
      "encoding": {
        "x": {
          "field": "x", "type": "quantitative",
          "scale": {"domain": [3480, 3535.4], "nice": false, "zero": false},
          "axis": {
            "orient": "top", "labels": false, "ticks": false, "grid": false, "title": null,
            "domain": true, "domainColor": "black", "domainWidth": 2.5
          }
        }
      }
    }
  ],
  "resolve": {"axis": {"x": "independent"}}
}
